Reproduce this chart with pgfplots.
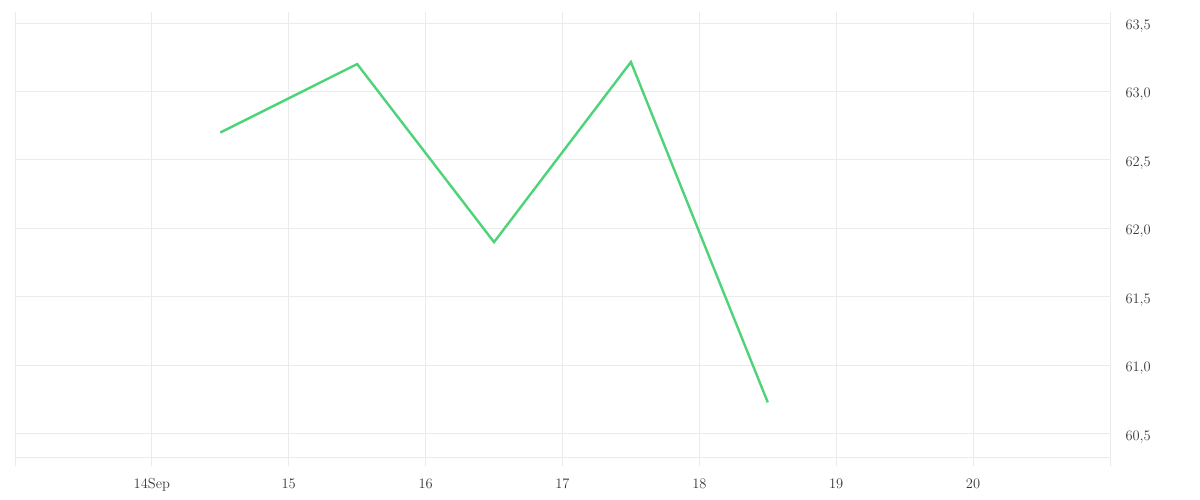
\documentclass[border=0pt]{standalone}
\usepackage{pgfplots}
\pgfplotsset{compat=1.18}
\definecolor{linegreen}{RGB}{78,211,121}
\definecolor{gridc}{RGB}{235,235,235}
\definecolor{textc}{RGB}{55,55,55}
\begin{document}
\begin{tikzpicture}[x=1pt,y=1pt]
\path[use as bounding box] (0,0) rectangle (1200,500);
\begin{axis}[
  at={(15pt,34pt)}, anchor=south west,
  scale only axis, width=1095pt, height=454pt,
  xmin=13, xmax=21,
  ymin=60.266, ymax=63.58,
  axis line style={draw=none},
  major tick length=0pt,
  xtick={13,14,15,16,17,18,19,20,21},
  xticklabels={,14Sep,15,16,17,18,19,20,},
  ytick={60.5,61,61.5,62,62.5,63,63.5},
  yticklabels={{60,5},{61,0},{61,5},{62,0},{62,5},{63,0},{63,5}},
  extra y ticks={60.325},
  extra y tick labels={},
  extra y tick style={grid=major},
  yticklabel pos=right,
  grid=major,
  major grid style={draw=gridc, line width=0.9pt},
  tick label style={font=\fontsize{14.5}{17}\selectfont, text=textc},
  xticklabel style={yshift=-9pt},
  yticklabel style={anchor=west, xshift=12pt, yshift=-3pt},
  clip=false,
]
\addplot[color=linegreen, line width=2.4pt, line join=miter] coordinates {
  (14.5,62.70) (15.5,63.20) (16.5,61.90) (17.5,63.215) (18.5,60.73)
};
\end{axis}
\end{tikzpicture}
\end{document}
